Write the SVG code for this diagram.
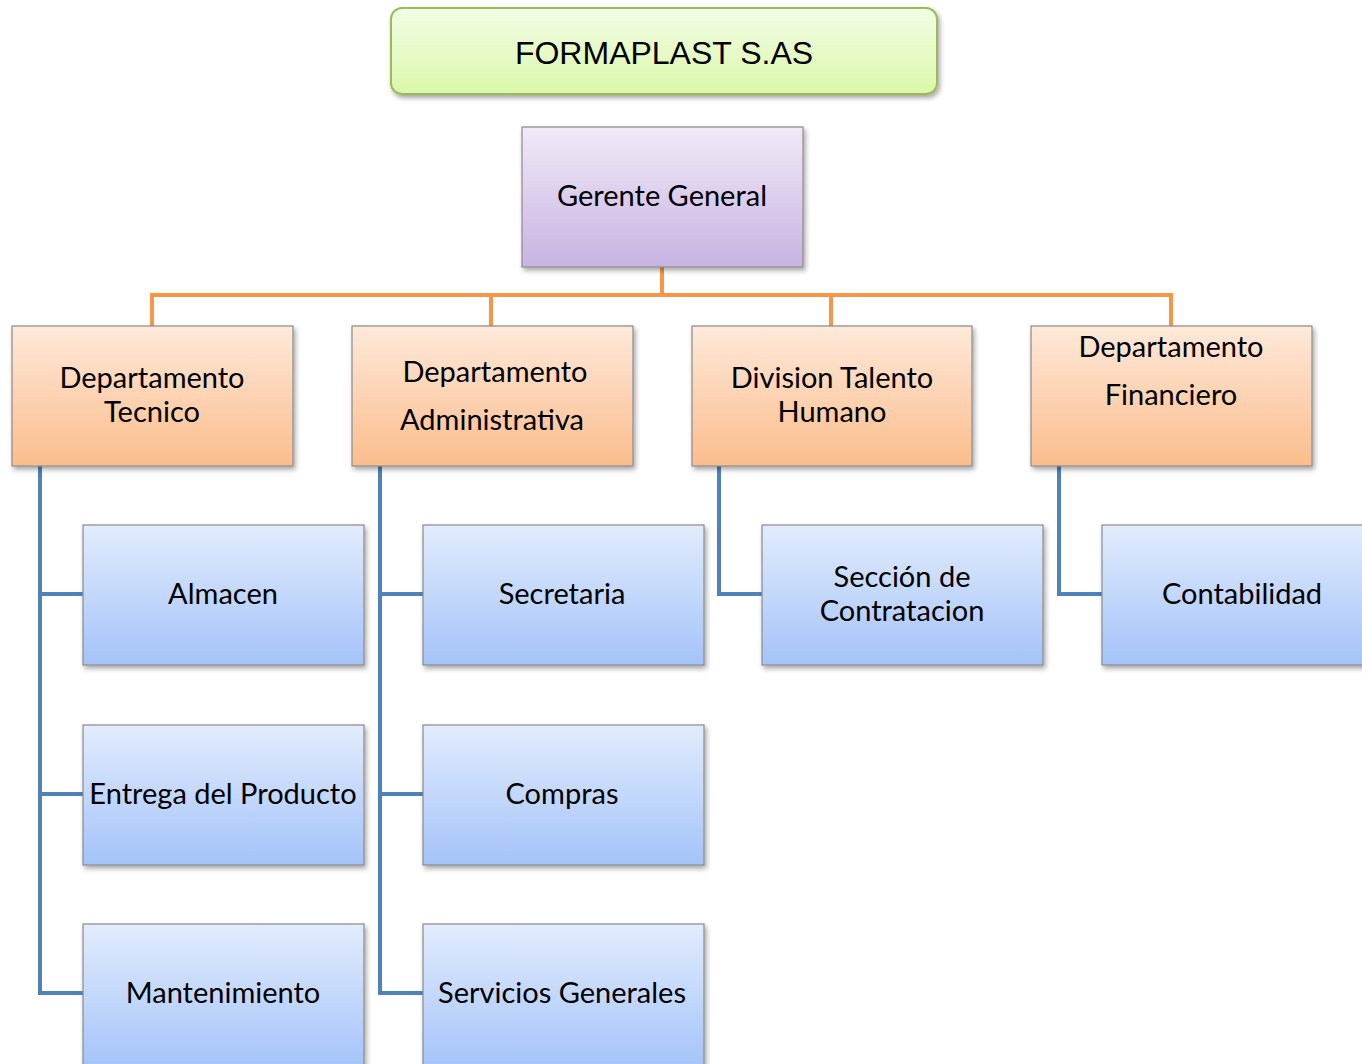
<svg xmlns="http://www.w3.org/2000/svg" width="1362" height="1064" viewBox="0 0 1362 1064">
<defs>
<linearGradient id="gGreen" x1="0" y1="0" x2="0" y2="1"><stop offset="0" stop-color="#f3fde6"/><stop offset="1" stop-color="#daf8aa"/></linearGradient>
<linearGradient id="gPurple" x1="0" y1="0" x2="0" y2="1"><stop offset="0" stop-color="#f0eaf8"/><stop offset="1" stop-color="#c8b3e2"/></linearGradient>
<linearGradient id="gOrange" x1="0" y1="0" x2="0" y2="1"><stop offset="0" stop-color="#fee9da"/><stop offset="1" stop-color="#fbbd8c"/></linearGradient>
<linearGradient id="gBlue" x1="0" y1="0" x2="0" y2="1"><stop offset="0" stop-color="#e2ecfd"/><stop offset="1" stop-color="#a4c3f9"/></linearGradient>
<filter id="sh" x="-10%" y="-10%" width="125%" height="130%"><feDropShadow dx="2" dy="3" stdDeviation="2.5" flood-color="#000" flood-opacity="0.35"/></filter>
</defs>
<style>
.t{font-family:Lato,"Open Sans","Noto Sans",sans-serif;font-size:29px;fill:#000;text-anchor:middle}
.box{stroke:#8a8a8a;stroke-width:1.2;filter:url(#sh)}
.o{fill:url(#gOrange)}
.b{fill:url(#gBlue)}
.oc{stroke:#f79646;stroke-width:4;fill:none}
.bc{stroke:#4f81bd;stroke-width:4;fill:none}
</style>
<rect width="1362" height="1064" fill="#fff"/>
<g id="connectors">
<path class="oc" d="M662 267V295M152 326V295H1171V326M491 295V326M831 295V326"/>
<path class="bc" d="M40 466V993H83M40 594H83M40 794H83"/>
<path class="bc" d="M380 466V993H423M380 594H423M380 794H423"/>
<path class="bc" d="M719 466V594H762"/>
<path class="bc" d="M1059 466V594H1102"/>
</g>
<g id="title">
<rect x="391" y="8" width="546" height="86" rx="11" fill="url(#gGreen)" stroke="#9bbb59" stroke-width="2" filter="url(#sh)"/>
<text x="664" y="64" font-family="'Liberation Sans',Arial,sans-serif" font-size="32" text-anchor="middle">FORMAPLAST S.AS</text>
</g>
<g id="gerente">
<rect class="box" x="522" y="127" width="281" height="140" fill="url(#gPurple)"/>
<text class="t" x="662" y="206">Gerente General</text>
</g>
<g id="dep-tecnico">
<rect class="box o" x="12" y="326" width="281" height="140"/>
<text class="t" x="152" y="388">Departamento</text>
<text class="t" x="152" y="422">Tecnico</text>
</g>
<g id="dep-admin">
<rect class="box o" x="352" y="326" width="281" height="140"/>
<text class="t" x="495" y="382">Departamento</text>
<text class="t" x="492" y="430">Administrativa</text>
</g>
<g id="div-talento">
<rect class="box o" x="692" y="326" width="280" height="140"/>
<text class="t" x="832" y="388">Division Talento</text>
<text class="t" x="832" y="422">Humano</text>
</g>
<g id="dep-financiero">
<rect class="box o" x="1031" y="326" width="281" height="140"/>
<text class="t" x="1171" y="357">Departamento</text>
<text class="t" x="1171" y="405">Financiero</text>
</g>
<g id="almacen">
<rect class="box b" x="83" y="525" width="281" height="140"/>
<text class="t" x="223" y="604">Almacen</text>
</g>
<g id="entrega">
<rect class="box b" x="83" y="725" width="281" height="140"/>
<text class="t" x="223" y="804">Entrega del Producto</text>
</g>
<g id="mantenimiento">
<rect class="box b" x="83" y="924" width="281" height="145"/>
<text class="t" x="223" y="1003">Mantenimiento</text>
</g>
<g id="secretaria">
<rect class="box b" x="423" y="525" width="281" height="140"/>
<text class="t" x="562" y="604">Secretaria</text>
</g>
<g id="compras">
<rect class="box b" x="423" y="725" width="281" height="140"/>
<text class="t" x="562" y="804">Compras</text>
</g>
<g id="servicios">
<rect class="box b" x="423" y="924" width="281" height="145"/>
<text class="t" x="562" y="1003">Servicios Generales</text>
</g>
<g id="contratacion">
<rect class="box b" x="762" y="525" width="281" height="140"/>
<text class="t" x="902" y="587">Sección de</text>
<text class="t" x="902" y="621">Contratacion</text>
</g>
<g id="contabilidad">
<rect class="box b" x="1102" y="525" width="270" height="140"/>
<text class="t" x="1242" y="604">Contabilidad</text>
</g>
</svg>
